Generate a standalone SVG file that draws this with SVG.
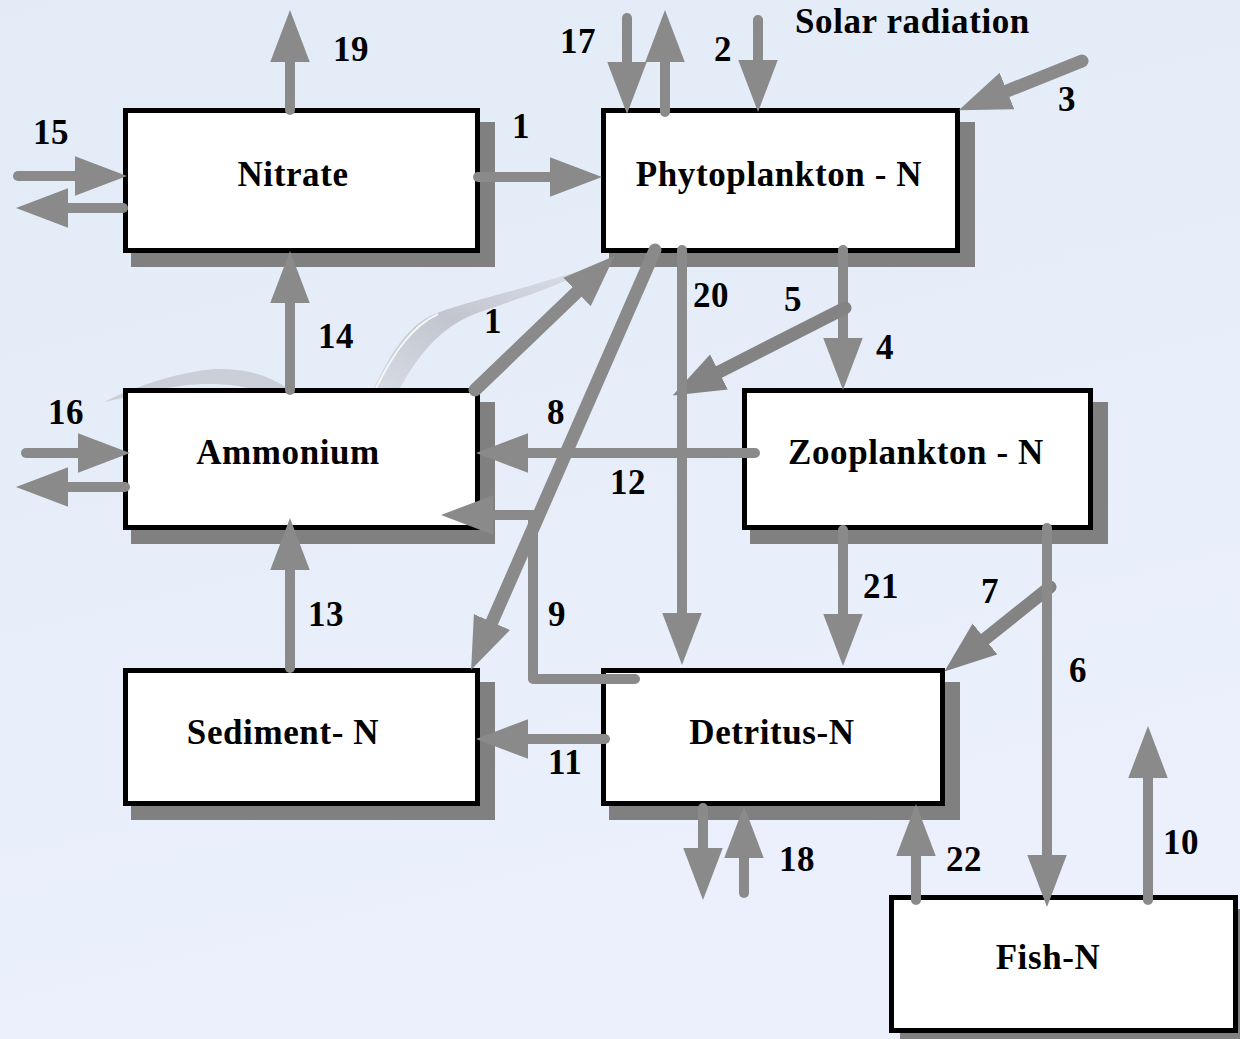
<svg xmlns="http://www.w3.org/2000/svg" width="1240" height="1039" viewBox="0 0 1240 1039">
<defs>
<linearGradient id="bg" x1="0" y1="0" x2="0.3" y2="1">
<stop offset="0" stop-color="#e2ebf6"/>
<stop offset="1" stop-color="#ebf0fc"/>
</linearGradient>
<linearGradient id="wing" x1="0" y1="1" x2="1" y2="0">
<stop offset="0" stop-color="#d8dce4"/>
<stop offset="0.45" stop-color="#c2c5cd"/>
<stop offset="1" stop-color="#cfd2da" stop-opacity="0.5"/>
</linearGradient>
<marker id="ah" markerUnits="userSpaceOnUse" markerWidth="52" markerHeight="40" viewBox="0 0 50 38" refX="0" refY="19" orient="auto">
<path d="M0,0 L50,19 L0,38 Z" fill="#8a8a8a"/>
</marker>
<marker id="ahd" markerUnits="userSpaceOnUse" markerWidth="52" markerHeight="40" viewBox="0 0 50 38" refX="0" refY="19" orient="auto">
<path d="M0,0 L50,19 L0,38 Z" fill="#838383"/>
</marker>
<style>
.shadow{fill:#808080}
.box{fill:#ffffff;stroke:#000000;stroke-width:5}
.lbl{font-family:"Liberation Serif","Times New Roman",serif;font-weight:bold;font-size:35px;letter-spacing:0.6px;fill:#000000}
.nt{text-anchor:middle}
.c{fill:none;stroke:#8a8a8a;stroke-width:10;stroke-linecap:round;stroke-linejoin:round;marker-end:url(#ah)}
.thick{stroke-width:13}
.dark{stroke:#838383;marker-end:url(#ahd)}
</style>
</defs>
<rect width="1240" height="1039" fill="url(#bg)"/>
<g id="bird">
<path d="M372,392 C392,350 410,322 440,312 C480,298 530,288 606,262 C560,286 520,298 480,312 C445,324 420,350 398,392 Z" fill="url(#wing)"/>
<path d="M374,392 C394,352 412,326 438,314" fill="none" stroke="#ffffff" stroke-width="2" opacity="0.8"/>
<path d="M104,402 C140,384 180,372 215,369 C248,368 270,376 290,390 L262,392 C240,384 210,382 180,386 C150,390 125,398 104,402 Z" fill="#c6c9d1" opacity="0.85"/>
</g>
<g id="nitrate">
<rect class="shadow" x="131" y="122" width="364" height="145"/>
<rect class="box" x="125.5" y="110.5" width="352" height="140"/>
<text class="lbl nt" x="293" y="186">Nitrate</text>
</g>
<g id="phytoplankton">
<rect class="shadow" x="609" y="122" width="366" height="145"/>
<rect class="box" x="603.5" y="110.5" width="354" height="140"/>
<text class="lbl nt" x="779" y="186">Phytoplankton - N</text>
</g>
<g id="ammonium">
<rect class="shadow" x="131" y="402" width="364" height="142"/>
<rect class="box" x="125.5" y="390.5" width="352" height="137"/>
<text class="lbl nt" x="288" y="464">Ammonium</text>
</g>
<g id="zooplankton">
<rect class="shadow" x="750" y="402" width="358" height="142"/>
<rect class="box" x="744.5" y="390.5" width="346" height="137"/>
<text class="lbl nt" x="916" y="464">Zooplankton - N</text>
</g>
<g id="sediment">
<rect class="shadow" x="131" y="682" width="364" height="138"/>
<rect class="box" x="125.5" y="670.5" width="352" height="133"/>
<text class="lbl nt" x="283" y="744">Sediment- N</text>
</g>
<g id="detritus">
<rect class="shadow" x="609" y="682" width="351" height="138"/>
<rect class="box" x="603.5" y="670.5" width="339" height="133"/>
<text class="lbl nt" x="772" y="744">Detritus-N</text>
</g>
<g id="fish">
<rect class="shadow" x="900" y="909" width="354" height="138"/>
<rect class="box" x="891.5" y="897.5" width="344" height="133"/>
<text class="lbl nt" x="1048" y="969">Fish-N</text>
</g>
<g id="connectors">
<path class="c" d="M290,110 V62"/>
<path class="c" d="M18,176 H75"/>
<path class="c" d="M123,208 H68"/>
<path class="c" d="M478,177 H550"/>
<path class="c" d="M627,18 V62"/>
<path class="c" d="M665,112 V62"/>
<path class="c" d="M758,20 V60"/>
<path class="c thick" d="M1082,61 L1007,91"/>
<path class="c" d="M843,250 V338"/>
<path class="c thick dark" d="M845,308 L719,372"/>
<path class="c" d="M682,250 V613"/>
<path class="c thick" d="M655,250 L492,622"/>
<path class="c thick" d="M475,390 L577,292"/>
<path class="c" d="M290,390 V303"/>
<path class="c" d="M26,453 H78"/>
<path class="c" d="M125,487 H68"/>
<path class="c" d="M755,453 H528"/>
<path class="c" d="M635,679 H533 V515 H493"/>
<path class="c" d="M290,668 V570"/>
<path class="c" d="M605,739 H528"/>
<path class="c" d="M843,530 V614"/>
<path class="c thick dark" d="M1050,587 L985,639"/>
<path class="c" d="M1047,528 V855"/>
<path class="c" d="M703,808 V848"/>
<path class="c" d="M744,893 V858"/>
<path class="c" d="M916,900 V856"/>
<path class="c" d="M1148,900 V778"/>
</g>
<g id="labels">
<text class="lbl" x="333" y="61">19</text>
<text class="lbl" x="560" y="53">17</text>
<text class="lbl" x="714" y="61">2</text>
<text class="lbl" x="795" y="33">Solar radiation</text>
<text class="lbl" x="1058" y="111">3</text>
<text class="lbl" x="33" y="144">15</text>
<text class="lbl" x="512" y="138">1</text>
<text class="lbl" x="693" y="307">20</text>
<text class="lbl" x="784" y="311">5</text>
<text class="lbl" x="484" y="333">1</text>
<text class="lbl" x="318" y="348">14</text>
<text class="lbl" x="876" y="359">4</text>
<text class="lbl" x="48" y="424">16</text>
<text class="lbl" x="547" y="424">8</text>
<text class="lbl" x="610" y="494">12</text>
<text class="lbl" x="863" y="598">21</text>
<text class="lbl" x="981" y="603">7</text>
<text class="lbl" x="308" y="626">13</text>
<text class="lbl" x="548" y="626">9</text>
<text class="lbl" x="1069" y="682">6</text>
<text class="lbl" x="548" y="774">11</text>
<text class="lbl" x="1163" y="854">10</text>
<text class="lbl" x="779" y="871">18</text>
<text class="lbl" x="946" y="871">22</text>
</g>
</svg>
